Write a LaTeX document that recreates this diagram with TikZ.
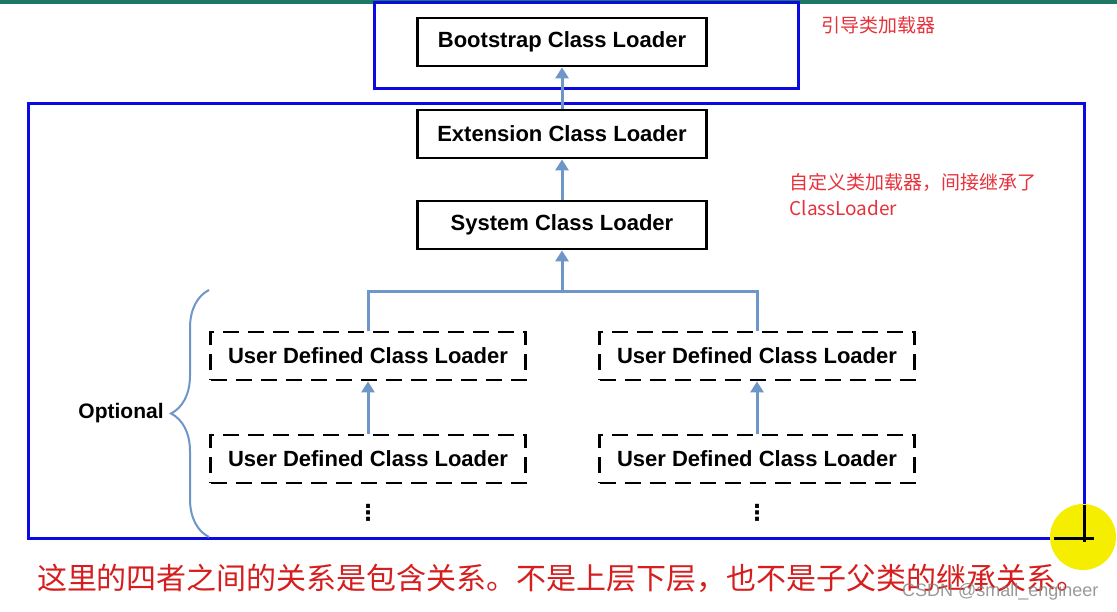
\documentclass[tikz,border=0pt]{standalone}
\usepackage{fontspec}
\setmainfont{Liberation Sans}
\newfontfamily\cjk{Noto Sans CJK SC}
\newfontfamily\symfont{DejaVu Sans}
\usetikzlibrary{arrows.meta,decorations.pathreplacing}

\definecolor{frameblue}{RGB}{10,10,225}
\definecolor{linkblue}{RGB}{110,150,200}
\definecolor{notered}{RGB}{230,50,60}
\definecolor{captionred}{RGB}{215,30,30}
\definecolor{topgreen}{RGB}{30,120,100}
\definecolor{marker}{RGB}{245,238,0}

\tikzset{
  loader/.style={draw=black, line width=2.8pt, minimum width=289pt, minimum height=48pt,
    inner sep=0pt, font=\fontsize{22}{26}\selectfont\bfseries},
  userloader/.style={loader, minimum width=315pt, dash pattern=on 16pt off 9pt},
  link/.style={draw=linkblue, line width=3pt},
  uplink/.style={link, -{Triangle[width=13pt,length=11pt]}},
  frame/.style={draw=frameblue, line width=3pt},
  note/.style={text=notered, font=\cjk\fontsize{19}{26}\selectfont, anchor=west, align=left},
  more/.style={font=\symfont\fontsize{22}{22}\selectfont\bfseries, inner sep=0pt},
}

\begin{document}
\begin{tikzpicture}[x=1pt,y=-1pt]
\useasboundingbox (0,0) rectangle (1117,611);
\fill[white] (0,0) rectangle (1117,611);
\draw[topgreen, line width=4pt] (0,1.5) -- (1117,1.5);

% the two blue frames
\draw[frame] (374,2) rectangle (798,88);
\draw[frame] (28,103) rectangle (1084,538);

\node[loader] (boot) at (562,42) {Bootstrap Class Loader};
\node[loader] (ext) at (562,134) {Extension Class Loader};
\node[loader] (sys) at (562,225) {System Class Loader};
\node[userloader] (udl1) at (368,356) {User Defined Class Loader};
\node[userloader] (udr1) at (757,356) {User Defined Class Loader};
\node[userloader] (udl2) at (368,459) {User Defined Class Loader};
\node[userloader] (udr2) at (757,459) {User Defined Class Loader};
\node[more] (dotl) at (368,513) {⋮};
\node[more] (dotr) at (757,513) {⋮};

\coordinate (split) at (562,291);
\draw[uplink] (ext) -- (boot);
\draw[uplink] (sys) -- (ext);
\draw[uplink] (split) -- (sys);
\draw[link] (split) -| (udl1.north);
\draw[link] (split) -| (udr1.north);
\draw[uplink] (udl2) -- (udl1);
\draw[uplink] (udr2) -- (udr1);

% brace for the optional loaders
\draw[linkblue, line width=2pt, decorate, decoration={brace, amplitude=38pt}] (209,537) -- (209,290);
\node[font=\fontsize{21}{25}\selectfont\bfseries] (opt) at (121,413) {Optional};

\node[note] (bootnote) at (818,25) {引导类加载器};
\node[note] (usernote) at (786,195) {自定义类加载器，间接继承了\\ClassLoader};
\node[text=captionred, font=\cjk\fontsize{30}{34}\selectfont] (caption) at (562,578)
  {这里的四者之间的关系是包含关系。不是上层下层，也不是子父类的继承关系。};

% cursor mark
\fill[marker] (1083,537) circle (33);
\draw[black, line width=3pt] (1084,505) -- (1084,542);
\draw[black, line width=3pt] (1054,538) -- (1094,538);
\node[text=gray, opacity=0.8, font=\fontsize{18}{20}\selectfont, anchor=east] (mark) at (1102,592) {CSDN @small\_engineer};
\end{tikzpicture}
\end{document}
